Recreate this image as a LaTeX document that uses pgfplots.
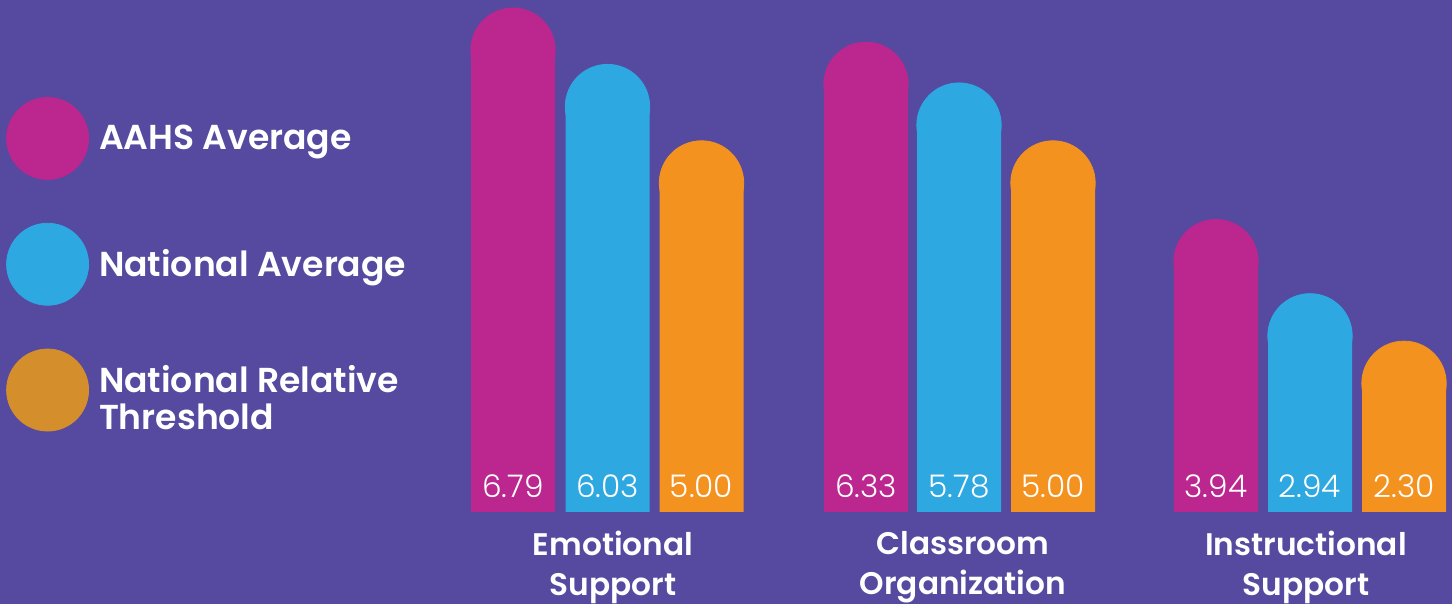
\documentclass[border=0pt]{standalone}
\usepackage{pgfplots}
\pgfplotsset{compat=1.18}
\usepackage{pgfplotstable}
\usepackage{fontspec}
\setmainfont{Poppins}[BoldFont={Poppins SemiBold}]
\newfontfamily\lightfont{Poppins Light}
\definecolor{bg}{HTML}{554A9F}
\definecolor{mag}{HTML}{BB268F}
\definecolor{blu}{HTML}{2DA8E0}
\definecolor{ora}{HTML}{F3921F}
\definecolor{oraleg}{HTML}{D58E2C}

\pgfplotstableread{
x v lab
513 6.79 6.79
866 6.33 6.33
1216 3.94 3.94
}\aahs
\pgfplotstableread{
x v lab
607.5 6.03 6.03
959 5.78 5.78
1310 2.94 2.94
}\natavg
\pgfplotstableread{
x v lab
701.5 5.00 5.00
1053 5.00 5.00
1404 2.30 2.30
}\natthr

\begin{document}
\begin{tikzpicture}
\begin{axis}[
  name=ax,
  scale only axis, width=726pt, height=302pt,
  xmin=0, xmax=1452, ymin=-1.240, ymax=6.900,
  axis background/.style={fill=bg},
  axis line style={draw=none},
  ytick=\empty,
  xtick={613,963,1306},
  xticklabels={Emotional\\Support, Classroom\\Organization, Instructional\\Support},
  xticklabel style={align=center, font=\bfseries\fontsize{15.6}{20}\selectfont, text=white, yshift=40pt},
  major tick length=0pt,
  clip=false,
  legend cell align=left,
  legend style={at={(0.004,0.84)}, anchor=north west, draw=none, fill=none,
    font=\bfseries\fontsize{17.3}{18}\selectfont, text=white, row sep=21.5pt, inner sep=0pt,
    /tikz/every odd column/.style={column sep=3pt}},
]
% AAHS
\addplot[ybar, bar width=42pt, bar shift=0pt, fill=mag, draw=none, forget plot] table[x=x, y expr=\thisrow{v}-0.566] {\aahs};
\addplot[only marks, color=mag, mark=*, mark size=21.1pt, mark options={fill=mag, draw=none}, forget plot] table[x=x, y expr=\thisrow{v}-0.566] {\aahs};
% National avg
\addplot[ybar, bar width=42pt, bar shift=0pt, fill=blu, draw=none, forget plot] table[x=x, y expr=\thisrow{v}-0.566] {\natavg};
\addplot[only marks, color=blu, mark=*, mark size=21.1pt, mark options={fill=blu, draw=none}, forget plot] table[x=x, y expr=\thisrow{v}-0.566] {\natavg};
% Threshold
\addplot[ybar, bar width=42pt, bar shift=0pt, fill=ora, draw=none, forget plot] table[x=x, y expr=\thisrow{v}-0.566] {\natthr};
\addplot[only marks, color=ora, mark=*, mark size=21.1pt, mark options={fill=ora, draw=none}, forget plot] table[x=x, y expr=\thisrow{v}-0.566] {\natthr};
% value labels
\pgfplotsset{vallab/.style={draw=none, mark=none, forget plot, nodes near coords, point meta=explicit symbolic,
  nodes near coords style={anchor=center, text=white, font=\lightfont\fontsize{15.6}{18}\selectfont}}}
\addplot[vallab] table[x=x, y expr=0.35, meta=lab] {\aahs};
\addplot[vallab] table[x=x, y expr=0.35, meta=lab] {\natavg};
\addplot[vallab] table[x=x, y expr=0.35, meta=lab] {\natthr};
% legend
\addlegendimage{legend image code/.code={\fill[mag] (0pt,0pt) circle (20.5pt);}}
\addlegendentry{AAHS Average}
\addlegendimage{legend image code/.code={\fill[blu] (0pt,0pt) circle (20.5pt);}}
\addlegendentry{National Average}
\addlegendimage{legend image code/.code={\fill[oraleg] (0pt,0pt) circle (20.5pt);}}
\addlegendentry{\begin{tabular}{@{}l@{}}National Relative\\[0pt]Threshold\end{tabular}}
\end{axis}
\pgfresetboundingbox
\path (ax.south west) rectangle (ax.north east);
\end{tikzpicture}
\end{document}
